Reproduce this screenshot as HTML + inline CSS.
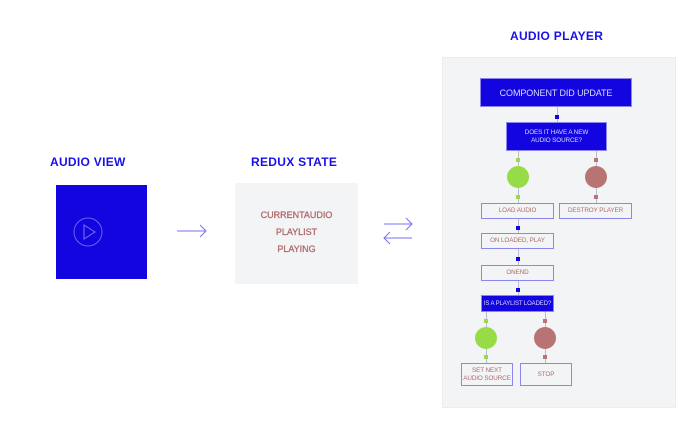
<!DOCTYPE html>
<html><head><style>
body{margin:0;width:700px;height:434px;background:#fff;position:relative;font-family:"Liberation Sans",sans-serif;overflow:hidden}
.a{position:absolute}
.t{color:#1a10e6;font-weight:bold;font-size:12px;letter-spacing:.3px}
.bx{position:absolute;box-sizing:border-box;display:flex;align-items:center;justify-content:center;text-align:center;font-size:6.3px;color:#b06a6a;line-height:8px;white-space:nowrap;letter-spacing:-0.1px}
.o{border:1px solid #8c86ee;background:#f3f4f6}
.f{background:#1205e0;color:#dcdcff;border:1px solid #8c86ee}
.d{position:absolute;width:4px;height:4px}
.l{position:absolute;width:1px;background:#b9b9d8}
</style></head><body>
<div class="a t" style="left:50px;top:155px">AUDIO VIEW</div>
<div class="a t" style="left:251px;top:155px">REDUX STATE</div>
<div class="a t" style="left:510px;top:29px">AUDIO PLAYER</div>
<div class="a" style="left:56px;top:185px;width:91px;height:94px;background:#1205e0"></div>
<svg class="a" style="left:0;top:0" width="700" height="434">
<circle cx="88" cy="232" r="14" fill="none" stroke="#6a62ee" stroke-width="1"/>
<path d="M84 225 L95 232 L84 239 Z" fill="none" stroke="#7a72f0" stroke-width="1"/>
<g stroke="#7a72f0" stroke-width="1" fill="none">
<path d="M177 231 H206 M200 225 L206 231 L200 237"/>
<path d="M384 224 H412 M406 218 L412 224 L406 230"/>
<path d="M412 238 H384 M390 232 L384 238 L390 244"/>
</g>
</svg>
<div class="a" style="left:235px;top:183px;width:123px;height:101px;background:#f3f4f6"></div>
<div class="a" style="left:235px;top:207px;width:123px;text-align:center;color:#b06a6a;font-size:9px;line-height:17px;-webkit-text-stroke:0.3px #b06a6a">CURRENTAUDIO<br>PLAYLIST<br>PLAYING</div>
<div class="a" style="left:442px;top:57px;width:234px;height:351px;background:#f3f4f6;border:1px dotted #e4e4ea;box-sizing:border-box"></div>
<div class="bx f" style="left:480px;top:78px;width:152px;height:29px;font-size:9px">COMPONENT DID UPDATE</div>
<div class="l" style="left:557px;top:107px;height:15px"></div><div class="d" style="left:555px;top:115px;background:#1205e0"></div>
<div class="bx f" style="left:506px;top:122px;width:101px;height:29px">DOES IT HAVE A NEW<br>AUDIO SOURCE?</div>
<div class="l" style="left:518px;top:151px;height:52px"></div>
<div class="l" style="left:596px;top:151px;height:52px"></div>
<div class="d" style="left:516px;top:158px;background:#97dc47"></div><div class="d" style="left:516px;top:195px;background:#97dc47"></div>
<div class="d" style="left:594px;top:158px;background:#b87373"></div><div class="d" style="left:594px;top:195px;background:#b87373"></div>
<div class="a" style="left:507px;top:166px;width:22px;height:22px;border-radius:50%;background:#97dc47"></div>
<div class="a" style="left:585px;top:166px;width:22px;height:22px;border-radius:50%;background:#b87373"></div>
<div class="bx o" style="left:481px;top:203px;width:73px;height:16px">LOAD AUDIO</div>
<div class="bx o" style="left:559px;top:203px;width:73px;height:16px">DESTROY PLAYER</div>
<div class="l" style="left:518px;top:219px;height:14px"></div><div class="d" style="left:516px;top:226px;background:#1205e0"></div>
<div class="bx o" style="left:481px;top:233px;width:73px;height:16px">ON LOADED, PLAY</div>
<div class="l" style="left:518px;top:249px;height:16px"></div><div class="d" style="left:516px;top:257px;background:#1205e0"></div>
<div class="bx o" style="left:481px;top:265px;width:73px;height:16px">ONEND</div>
<div class="l" style="left:518px;top:281px;height:14px"></div><div class="d" style="left:516px;top:288px;background:#1205e0"></div>
<div class="bx f" style="left:481px;top:295px;width:73px;height:17px;font-size:6px">IS A PLAYLIST LOADED?</div>
<div class="l" style="left:486px;top:312px;height:51px"></div>
<div class="l" style="left:545px;top:312px;height:51px"></div>
<div class="d" style="left:484px;top:319px;background:#97dc47"></div><div class="d" style="left:484px;top:355px;background:#97dc47"></div>
<div class="d" style="left:543px;top:319px;background:#b87373"></div><div class="d" style="left:543px;top:355px;background:#b87373"></div>
<div class="a" style="left:475px;top:327px;width:22px;height:22px;border-radius:50%;background:#97dc47"></div>
<div class="a" style="left:534px;top:327px;width:22px;height:22px;border-radius:50%;background:#b87373"></div>
<div class="bx o" style="left:461px;top:363px;width:52px;height:23px">SET NEXT<br>AUDIO SOURCE</div>
<div class="bx o" style="left:520px;top:363px;width:52px;height:23px">STOP</div>
</body></html>
